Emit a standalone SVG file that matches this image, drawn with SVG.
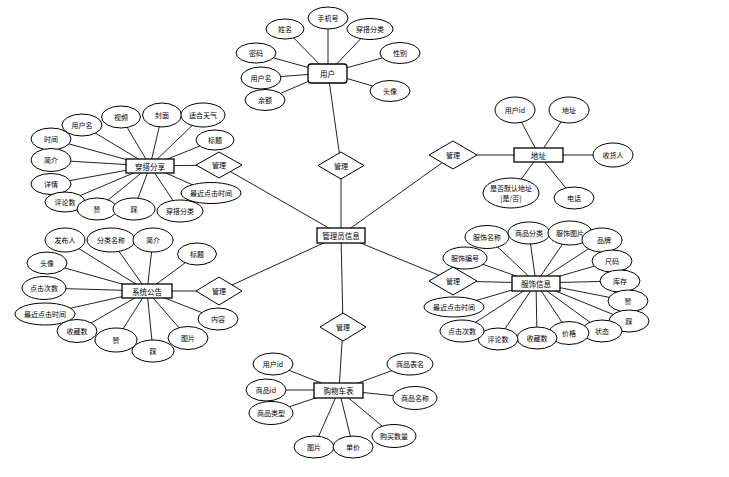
<svg xmlns="http://www.w3.org/2000/svg" width="729" height="477" viewBox="0 0 729 477">
<style>
.e{fill:#fff;stroke:#000;stroke-width:1}
.b{fill:#fff;stroke:#000;stroke-width:1.3}
.d{fill:#fff;stroke:#000;stroke-width:1}
.t{font-family:"Noto Sans CJK SC","Noto Sans",sans-serif;font-size:7px;fill:#000;text-anchor:middle;dominant-baseline:central}
.tb{font-family:"Noto Sans CJK SC","Noto Sans",sans-serif;font-size:7.5px;fill:#000;text-anchor:middle;dominant-baseline:central}
.c{stroke:#222;stroke-width:1;fill:none}
</style>
<rect width="729" height="477" fill="#fff"/>
<g id="connectors" class="c">
<path d="M285,29L328,73M328,18L328,73M370,29L328,73M400,53L328,73M390,91L328,73M256,53L328,73M261,78L328,73M265,100L328,73M328,73L341,165L341,235"/>
<path d="M82,125L150,166M121,117L150,166M162,115L150,166M203,115L150,166M215,140L150,166M51,139L150,166M51,160L150,166M51,184L150,166M65,202L150,166M97,209L150,166M134,209L150,166M180,211L150,166M211,193L150,166M150,166L219,165L341,235"/>
<path d="M65,240L147,291M111,240L147,291M153,240L147,291M197,254L147,291M47,263L147,291M44,288L147,291M45,314L147,291M77,331L147,291M116,340L147,291M153,351L147,291M188,338L147,291M218,319L147,291M147,291L219,291L341,235"/>
<path d="M273,364L339,390M266,390L339,390M271,413L339,390M410,364L339,390M415,398L339,390M394,436L339,390M314,447L339,390M353,447L339,390M339,390L343,327L341,235"/>
<path d="M515,110L539,155M569,110L539,155M613,155L539,155M511,193L539,155M574,198L539,155M539,155L453,155L341,235"/>
<path d="M465,258L536,283M487,237L536,283M529,233L536,283M570,233L536,283M602,240L536,283M612,261L536,283M620,281L536,283M628,301L536,283M629,321L536,283M602,331L536,283M569,333L536,283M537,338L536,283M498,339L536,283M462,331L536,283M454,307L536,283M536,283L453,281L341,235"/>
</g>
<g id="center">
<rect class="b" x="317" y="228" width="48" height="15" stroke-width="1.6"/>
<text class="tb" x="341" y="235.5" font-size="8.5px">管理员信息</text>
</g>
<g id="rel-user">
<polygon class="d" points="341,152 364,165.5 341,179 318,165.5"/>
<text class="t" x="341" y="165.5">管理</text>
</g>
<g id="rel-share">
<polygon class="d" points="219,152 242,165 219,178 196,165"/>
<text class="t" x="219" y="165">管理</text>
</g>
<g id="rel-notice">
<polygon class="d" points="219,277 242,291 219,305 196,291"/>
<text class="t" x="219" y="291">管理</text>
</g>
<g id="rel-address">
<polygon class="d" points="453,141 477,155 453,169 429,155"/>
<text class="t" x="453" y="155">管理</text>
</g>
<g id="rel-goods">
<polygon class="d" points="453,267 477,281 453,295 429,281"/>
<text class="t" x="453" y="281">管理</text>
</g>
<g id="rel-cart">
<polygon class="d" points="343,313 366,327 343,341 320,327"/>
<text class="t" x="343" y="327">管理</text>
</g>
<g id="user">
<rect class="b" x="308" y="64" width="39" height="19" rx="3"/>
<text class="tb" x="327.5" y="73.5">用户</text>
<ellipse class="e" cx="285" cy="29" rx="19" ry="10"/><text class="t" x="285" y="29">姓名</text>
<ellipse class="e" cx="328" cy="18" rx="20" ry="11"/><text class="t" x="328" y="18">手机号</text>
<ellipse class="e" cx="370" cy="29" rx="23" ry="10.5"/><text class="t" x="370" y="29">穿搭分类</text>
<ellipse class="e" cx="400" cy="53" rx="20" ry="10.5"/><text class="t" x="400" y="53">性别</text>
<ellipse class="e" cx="390" cy="91" rx="20" ry="10.5"/><text class="t" x="390" y="91">头像</text>
<ellipse class="e" cx="256" cy="53" rx="20" ry="10"/><text class="t" x="256" y="53">密码</text>
<ellipse class="e" cx="261" cy="78" rx="20" ry="11"/><text class="t" x="261" y="78">用户名</text>
<ellipse class="e" cx="265" cy="100" rx="20" ry="10.5"/><text class="t" x="265" y="100">余额</text>
</g>
<g id="share">
<rect class="b" x="126" y="159" width="48" height="14"/>
<text class="tb" x="150" y="166">穿搭分享</text>
<ellipse class="e" cx="82" cy="125" rx="20" ry="11"/><text class="t" x="82" y="125">用户名</text>
<ellipse class="e" cx="121" cy="117" rx="19.5" ry="11"/><text class="t" x="121" y="117">视频</text>
<ellipse class="e" cx="162" cy="115" rx="19.5" ry="12"/><text class="t" x="162" y="115">封面</text>
<ellipse class="e" cx="203" cy="115" rx="22" ry="12"/><text class="t" x="203" y="115">适合天气</text>
<ellipse class="e" cx="215" cy="140" rx="19" ry="10"/><text class="t" x="215" y="140">标题</text>
<ellipse class="e" cx="51" cy="139" rx="20" ry="11"/><text class="t" x="51" y="139">时间</text>
<ellipse class="e" cx="51" cy="160" rx="20" ry="11.5"/><text class="t" x="51" y="160">简介</text>
<ellipse class="e" cx="51" cy="184" rx="20" ry="10.5"/><text class="t" x="51" y="184">详情</text>
<ellipse class="e" cx="65" cy="202" rx="20" ry="10"/><text class="t" x="65" y="202">评论数</text>
<ellipse class="e" cx="97" cy="209" rx="20" ry="11"/><text class="t" x="97" y="209">赞</text>
<ellipse class="e" cx="134" cy="209" rx="21" ry="11"/><text class="t" x="134" y="209">踩</text>
<ellipse class="e" cx="180" cy="211" rx="23" ry="11"/><text class="t" x="180" y="211">穿搭分类</text>
<ellipse class="e" cx="211" cy="193" rx="30" ry="10.5"/><text class="t" x="211" y="193">最近点击时间</text>
</g>
<g id="notice">
<rect class="b" x="122" y="284" width="50" height="14"/>
<text class="tb" x="147" y="291">系统公告</text>
<ellipse class="e" cx="65" cy="240" rx="20" ry="12"/><text class="t" x="65" y="240">发布人</text>
<ellipse class="e" cx="111" cy="240" rx="24" ry="12"/><text class="t" x="111" y="240">分类名称</text>
<ellipse class="e" cx="153" cy="240" rx="20" ry="12"/><text class="t" x="153" y="240">简介</text>
<ellipse class="e" cx="197" cy="254" rx="19.5" ry="11"/><text class="t" x="197" y="254">标题</text>
<ellipse class="e" cx="47" cy="263" rx="20" ry="11"/><text class="t" x="47" y="263">头像</text>
<ellipse class="e" cx="44" cy="288" rx="22" ry="11.5"/><text class="t" x="44" y="288">点击次数</text>
<ellipse class="e" cx="45" cy="314" rx="30" ry="11"/><text class="t" x="45" y="314">最近点击时间</text>
<ellipse class="e" cx="77" cy="331" rx="20" ry="11.5"/><text class="t" x="77" y="331">收藏数</text>
<ellipse class="e" cx="116" cy="340" rx="21" ry="12"/><text class="t" x="116" y="340">赞</text>
<ellipse class="e" cx="153" cy="351" rx="21" ry="11"/><text class="t" x="153" y="351">踩</text>
<ellipse class="e" cx="188" cy="338" rx="20" ry="11.5"/><text class="t" x="188" y="338">图片</text>
<ellipse class="e" cx="218" cy="319" rx="20" ry="11"/><text class="t" x="218" y="319">内容</text>
</g>
<g id="cart">
<rect class="b" x="314" y="383" width="49" height="15"/>
<text class="tb" x="338.5" y="390.5">购物车表</text>
<ellipse class="e" cx="273" cy="364" rx="20" ry="11"/><text class="t" x="273" y="364">用户id</text>
<ellipse class="e" cx="266" cy="390" rx="20" ry="11"/><text class="t" x="266" y="390">商品id</text>
<ellipse class="e" cx="271" cy="413" rx="22" ry="11.5"/><text class="t" x="271" y="413">商品类型</text>
<ellipse class="e" cx="410" cy="364" rx="23" ry="11"/><text class="t" x="410" y="364">商品表名</text>
<ellipse class="e" cx="415" cy="398" rx="22" ry="11.5"/><text class="t" x="415" y="398">商品名称</text>
<ellipse class="e" cx="394" cy="436" rx="22" ry="11.5"/><text class="t" x="394" y="436">购买数量</text>
<ellipse class="e" cx="314" cy="447" rx="20" ry="11"/><text class="t" x="314" y="447">图片</text>
<ellipse class="e" cx="353" cy="447" rx="20" ry="11"/><text class="t" x="353" y="447">单价</text>
</g>
<g id="address">
<rect class="b" x="514" y="148" width="49" height="14"/>
<text class="tb" x="538.5" y="155">地址</text>
<ellipse class="e" cx="515" cy="110" rx="20" ry="13"/><text class="t" x="515" y="110">用户id</text>
<ellipse class="e" cx="569" cy="110" rx="20" ry="13"/><text class="t" x="569" y="110">地址</text>
<ellipse class="e" cx="613" cy="155" rx="20" ry="12"/><text class="t" x="613" y="155">收货人</text>
<ellipse class="e" cx="511" cy="193" rx="28" ry="15"/><text class="t" x="511" y="188">是否默认地址</text><text class="t" x="511" y="198">[是/否]</text>
<ellipse class="e" cx="574" cy="198" rx="20" ry="11"/><text class="t" x="574" y="198">电话</text>
</g>
<g id="goods">
<rect class="b" x="512" y="276" width="48" height="15"/>
<text class="tb" x="536" y="283.5">服饰信息</text>
<ellipse class="e" cx="465" cy="258" rx="22" ry="11"/><text class="t" x="465" y="258">服饰编号</text>
<ellipse class="e" cx="487" cy="237" rx="22" ry="11.5"/><text class="t" x="487" y="237">服饰名称</text>
<ellipse class="e" cx="529" cy="233" rx="21" ry="11"/><text class="t" x="529" y="233">商品分类</text>
<ellipse class="e" cx="570" cy="233" rx="22" ry="12"/><text class="t" x="570" y="233">服饰图片</text>
<ellipse class="e" cx="602" cy="240" rx="20" ry="12"/><text class="t" x="604" y="240">品牌</text>
<ellipse class="e" cx="612" cy="261" rx="20" ry="11"/><text class="t" x="612" y="261">尺码</text>
<ellipse class="e" cx="620" cy="281" rx="20" ry="11"/><text class="t" x="620" y="281">库存</text>
<ellipse class="e" cx="628" cy="301" rx="20" ry="11"/><text class="t" x="628" y="301">赞</text>
<ellipse class="e" cx="629" cy="321" rx="20" ry="11"/><text class="t" x="629" y="321">踩</text>
<ellipse class="e" cx="602" cy="331" rx="20" ry="11"/><text class="t" x="602" y="331">状态</text>
<ellipse class="e" cx="569" cy="333" rx="20" ry="11.5"/><text class="t" x="569" y="333">价格</text>
<ellipse class="e" cx="537" cy="338" rx="20" ry="11"/><text class="t" x="537" y="338">收藏数</text>
<ellipse class="e" cx="498" cy="339" rx="20" ry="11"/><text class="t" x="498" y="339">评论数</text>
<ellipse class="e" cx="462" cy="331" rx="22" ry="11"/><text class="t" x="462" y="331">点击次数</text>
<ellipse class="e" cx="454" cy="307" rx="30" ry="10"/><text class="t" x="454" y="307">最近点击时间</text>
</g>
</svg>
